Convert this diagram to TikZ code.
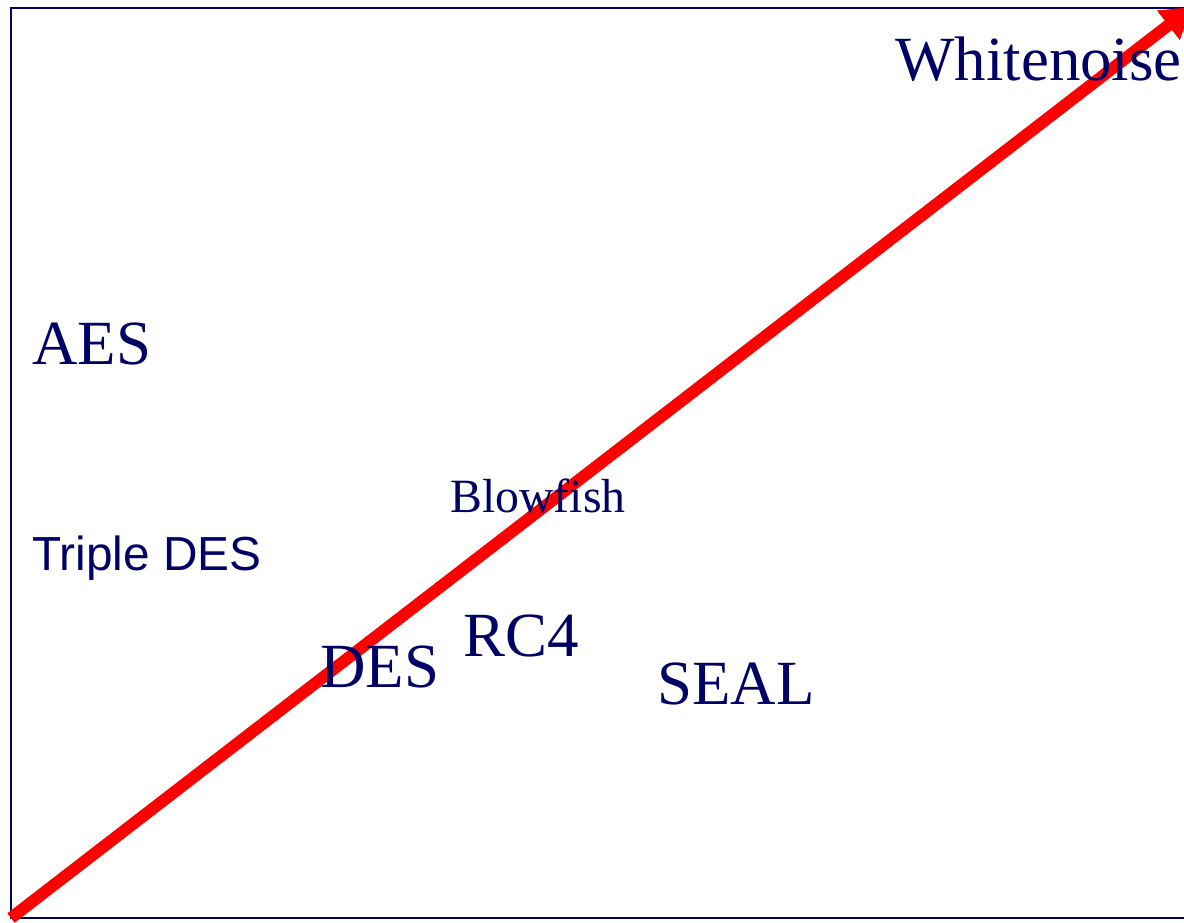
\documentclass[tikz,border=0pt]{standalone}
\usepackage{fontspec}
\setmainfont{Liberation Serif}
\newfontfamily\arialfont{Liberation Sans}
\usetikzlibrary{arrows.meta}
\definecolor{navyblue}{RGB}{0,0,102}

\begin{document}
\begin{tikzpicture}[x=0.02cm,y=-0.02cm]
        \tikzstyle{every node}+=[inner sep=0pt, anchor=base west, text=navyblue]
        \tikzstyle{bigname}=[font=\fontsize{35.8}{40}\selectfont]
        \useasboundingbox (0,0) rectangle (1184,923);
        \draw [navyblue, line width=1.2pt] (11,8) rectangle (1200,918);
        \coordinate (origin) at (11,918);
        \coordinate (tip) at (1192,7);
        \draw [red, line width=6.8pt, -{Triangle[length=17pt,width=20pt]}] (origin) -- (tip);
        \node [bigname] (whitenoise) at (895,80) {Whitenoise};
        \node [bigname] (aes) at (32,364) {AES};
        \node [font=\fontsize{27.2}{30}\selectfont] (blowfish) at (450,512) {Blowfish};
        \node [font=\arialfont\fontsize{27.2}{30}\selectfont] (tripledes) at (32,570) {Triple DES};
        \node [bigname] (rcfour) at (463,656) {RC4};
        \node [bigname] (des) at (320,687) {DES};
        \node [bigname] (seal) at (657,704) {SEAL};
\end{tikzpicture}
\end{document}
